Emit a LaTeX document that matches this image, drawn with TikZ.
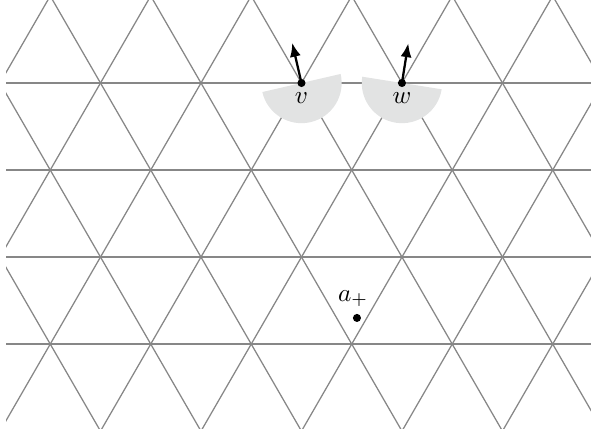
\documentclass[tikz,border=0pt]{standalone}
\usetikzlibrary{arrows.meta}
\definecolor{latgray}{RGB}{135,135,135}
\definecolor{conegray}{RGB}{226,227,227}

\begin{document}
\begin{tikzpicture}[x=1.4cm, y=1.4cm,
    lattice/.style={draw=latgray, line width=0.5pt},
    cone/.style={fill=conegray},
    pt/.style={circle, fill=black, inner sep=0pt, minimum size=3.2pt},
    normal/.style={-{Latex[length=5.5pt,width=4.4pt]}, line width=0.9pt}
]
\useasboundingbox (0,-3.443) rectangle (5.881,0.826);

% triangular lattice
\begin{scope}
\clip (0.06,-3.443) rectangle (5.881,0.826);
\foreach \j in {0,...,3}
  \draw[lattice] (0,-0.866*\j) -- (5.881,-0.866*\j);
\foreach \k in {-4,...,10} {
  \draw[lattice] (\k-2.5,-4.33) -- (\k+1,1.732);
  \draw[lattice] (\k+2.5,-4.33) -- (\k-1,1.732);
}
\end{scope}

\coordinate (v) at (3,0);
\coordinate (w) at (4,0);
\path (v) ++(103:0.41) coordinate (vn);
\path (w) ++(81:0.40) coordinate (wn);

% half discs
\fill[cone] (v) ++(193:0.4) arc[start angle=193, end angle=373, radius=0.4] -- cycle;
\fill[cone] (w) ++(171:0.4) arc[start angle=171, end angle=351, radius=0.4] -- cycle;

\draw[normal] (v) -- (vn);
\draw[normal] (w) -- (wn);

\node[pt, label={[label distance=-1.5pt]below:$v$}] (vdot) at (v) {};
\node[pt, label={[label distance=-1.5pt]below:$w$}] (wdot) at (w) {};
\node[pt, label={[xshift=-1.5pt, label distance=-1pt]above:$a_+$}] (aplus) at (3.552,-2.338) {};
\end{tikzpicture}
\end{document}
